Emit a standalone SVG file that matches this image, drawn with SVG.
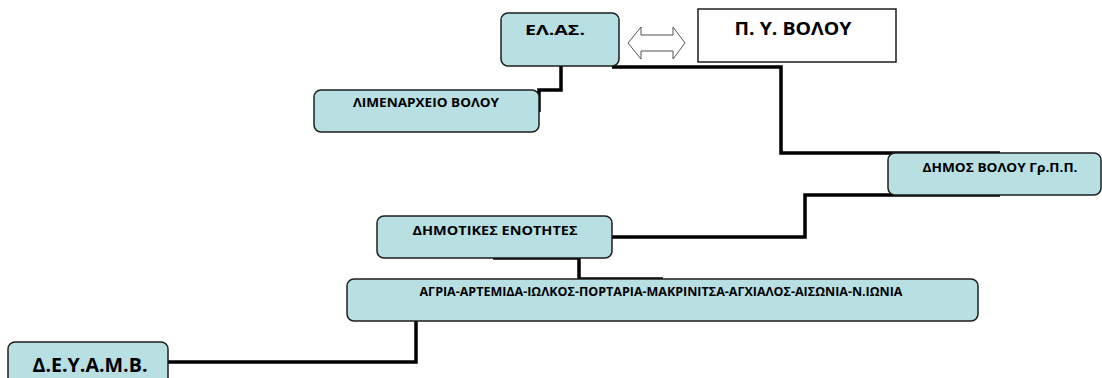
<svg xmlns="http://www.w3.org/2000/svg" width="1102" height="378" viewBox="0 0 1102 378">
<style>
.node{fill:#b8dfe1;stroke:#1e1e1e;stroke-width:1.5}
.plain{fill:#ffffff;stroke:#1e1e1e;stroke-width:1.5}
.conn{fill:none;stroke:#000;stroke-width:3.5;stroke-linejoin:miter}
text{font-family:"Open Sans","Liberation Sans",Arial,sans-serif;font-weight:bold;fill:#000;text-anchor:middle}
</style>
<rect width="1102" height="378" fill="#fff"/>
<g id="connectors">
<path class="conn" d="M561,66 V90 H539 V112"/>
<path class="conn" d="M612,67 H781 V153 H1000"/>
<path class="conn" d="M1000,195 H805 V237 H612"/>
<path class="conn" d="M493,258 H579 V279 H663"/>
<path class="conn" d="M416,321 V362 H168"/>
</g>
<g id="elas">
<rect class="node" x="501" y="13" width="118" height="53" rx="7"/>
<text x="555" y="35" font-size="15" textLength="60" lengthAdjust="spacingAndGlyphs">ΕΛ.ΑΣ.</text>
</g>
<g id="arrow">
<polygon points="628,43 641,27 641,35 673,35 673,27 685,43 673,59 673,51 641,51 641,59" fill="#fff" stroke="#555" stroke-width="1"/>
</g>
<g id="py">
<rect class="plain" x="698" y="9" width="198" height="53"/>
<text x="793" y="35" font-size="17" textLength="117" lengthAdjust="spacingAndGlyphs">Π. Υ. ΒΟΛΟΥ</text>
</g>
<g id="limenarxeio">
<rect class="node" x="314" y="90" width="225" height="42" rx="7"/>
<text x="426" y="107" font-size="13" textLength="146" lengthAdjust="spacingAndGlyphs">ΛΙΜΕΝΑΡΧΕΙΟ ΒΟΛΟΥ</text>
</g>
<g id="dimos">
<rect class="node" x="888" y="153" width="213" height="42" rx="7"/>
<text x="1000" y="172" font-size="13" textLength="155" lengthAdjust="spacingAndGlyphs">ΔΗΜΟΣ ΒΟΛΟΥ Γρ.Π.Π.</text>
</g>
<g id="enotites">
<rect class="node" x="377" y="216" width="235" height="42" rx="7"/>
<text x="495" y="235" font-size="13" textLength="165" lengthAdjust="spacingAndGlyphs">ΔΗΜΟΤΙΚΕΣ ΕΝΟΤΗΤΕΣ</text>
</g>
<g id="perioxes">
<rect class="node" x="347" y="279" width="631" height="42" rx="7"/>
<text x="661" y="296" font-size="12" textLength="483" lengthAdjust="spacingAndGlyphs">ΑΓΡΙΑ-ΑΡΤΕΜΙΔΑ-ΙΩΛΚΟΣ-ΠΟΡΤΑΡΙΑ-ΜΑΚΡΙΝΙΤΣΑ-ΑΓΧΙΑΛΟΣ-ΑΙΣΩΝΙΑ-Ν.ΙΩΝΙΑ</text>
</g>
<g id="deyamv">
<rect class="node" x="8" y="342" width="160" height="50" rx="7"/>
<text x="90" y="372" font-size="19" textLength="115" lengthAdjust="spacingAndGlyphs">Δ.Ε.Υ.Α.Μ.Β.</text>
</g>
</svg>
